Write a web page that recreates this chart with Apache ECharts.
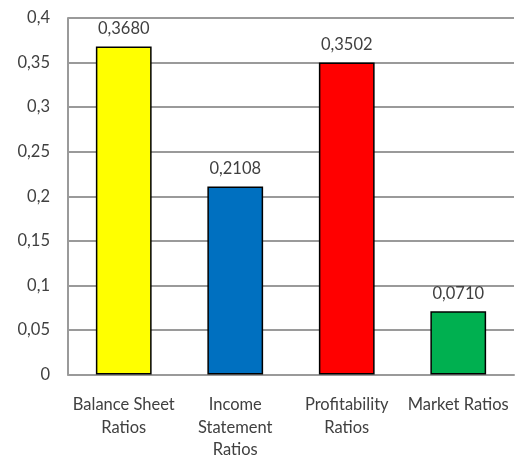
<!DOCTYPE html>
<html><head><meta charset="utf-8">
<script src="https://cdn.jsdelivr.net/npm/echarts@6/dist/echarts.min.js"></script>
<style>html,body{margin:0;padding:0;background:#fff;overflow:hidden}#c{width:516px;height:461px}</style>
</head><body><div id="c"></div>
<script>
const categories = ["Balance Sheet\nRatios", "Income\nStatement\nRatios", "Profitability\nRatios", "Market Ratios"];
const values = [0.3680, 0.2108, 0.3502, 0.0710];
const barColors = ["#ffff00", "#0070c0", "#ff0000", "#00b050"];
const yMin = 0, yMax = 0.4, yStep = 0.05;

const chart = echarts.init(document.getElementById('c'));
const font = "Lato, 'Open Sans', sans-serif";
chart.setOption({
  animation: false,
  grid: {left: 68, right: 2, top: 18, bottom: 83, containLabel: false},
  xAxis: {
    type: 'category', data: categories,
    axisLine: {lineStyle: {color: '#9a9a9a', width: 2}},
    axisTick: {show: false},
    axisLabel: {color: '#404040', fontSize: 16.5, fontFamily: font, lineHeight: 22.5, margin: 19, interval: 0}
  },
  yAxis: {
    type: 'value', min: yMin, max: yMax, interval: yStep,
    axisLine: {show: true, lineStyle: {color: '#9a9a9a', width: 2}},
    axisTick: {show: false},
    splitLine: {lineStyle: {color: '#9a9a9a', width: 2}},
    axisLabel: {color: '#404040', fontSize: 16.5, fontFamily: font, margin: 18,
      formatter: v => String(+v.toFixed(2)).replace('.', ',')}
  },
  series: [{
    type: 'bar', barWidth: '50%',
    data: values.map((v, i) => ({value: v, itemStyle: {color: barColors[i]}})),
    itemStyle: {borderColor: '#000', borderWidth: 1.5},
    label: {show: true, position: 'top', distance: 9, color: '#404040', fontSize: 16.5, fontFamily: font,
      formatter: p => p.value.toFixed(4).replace('.', ',')}
  }]
});
</script></body></html>
